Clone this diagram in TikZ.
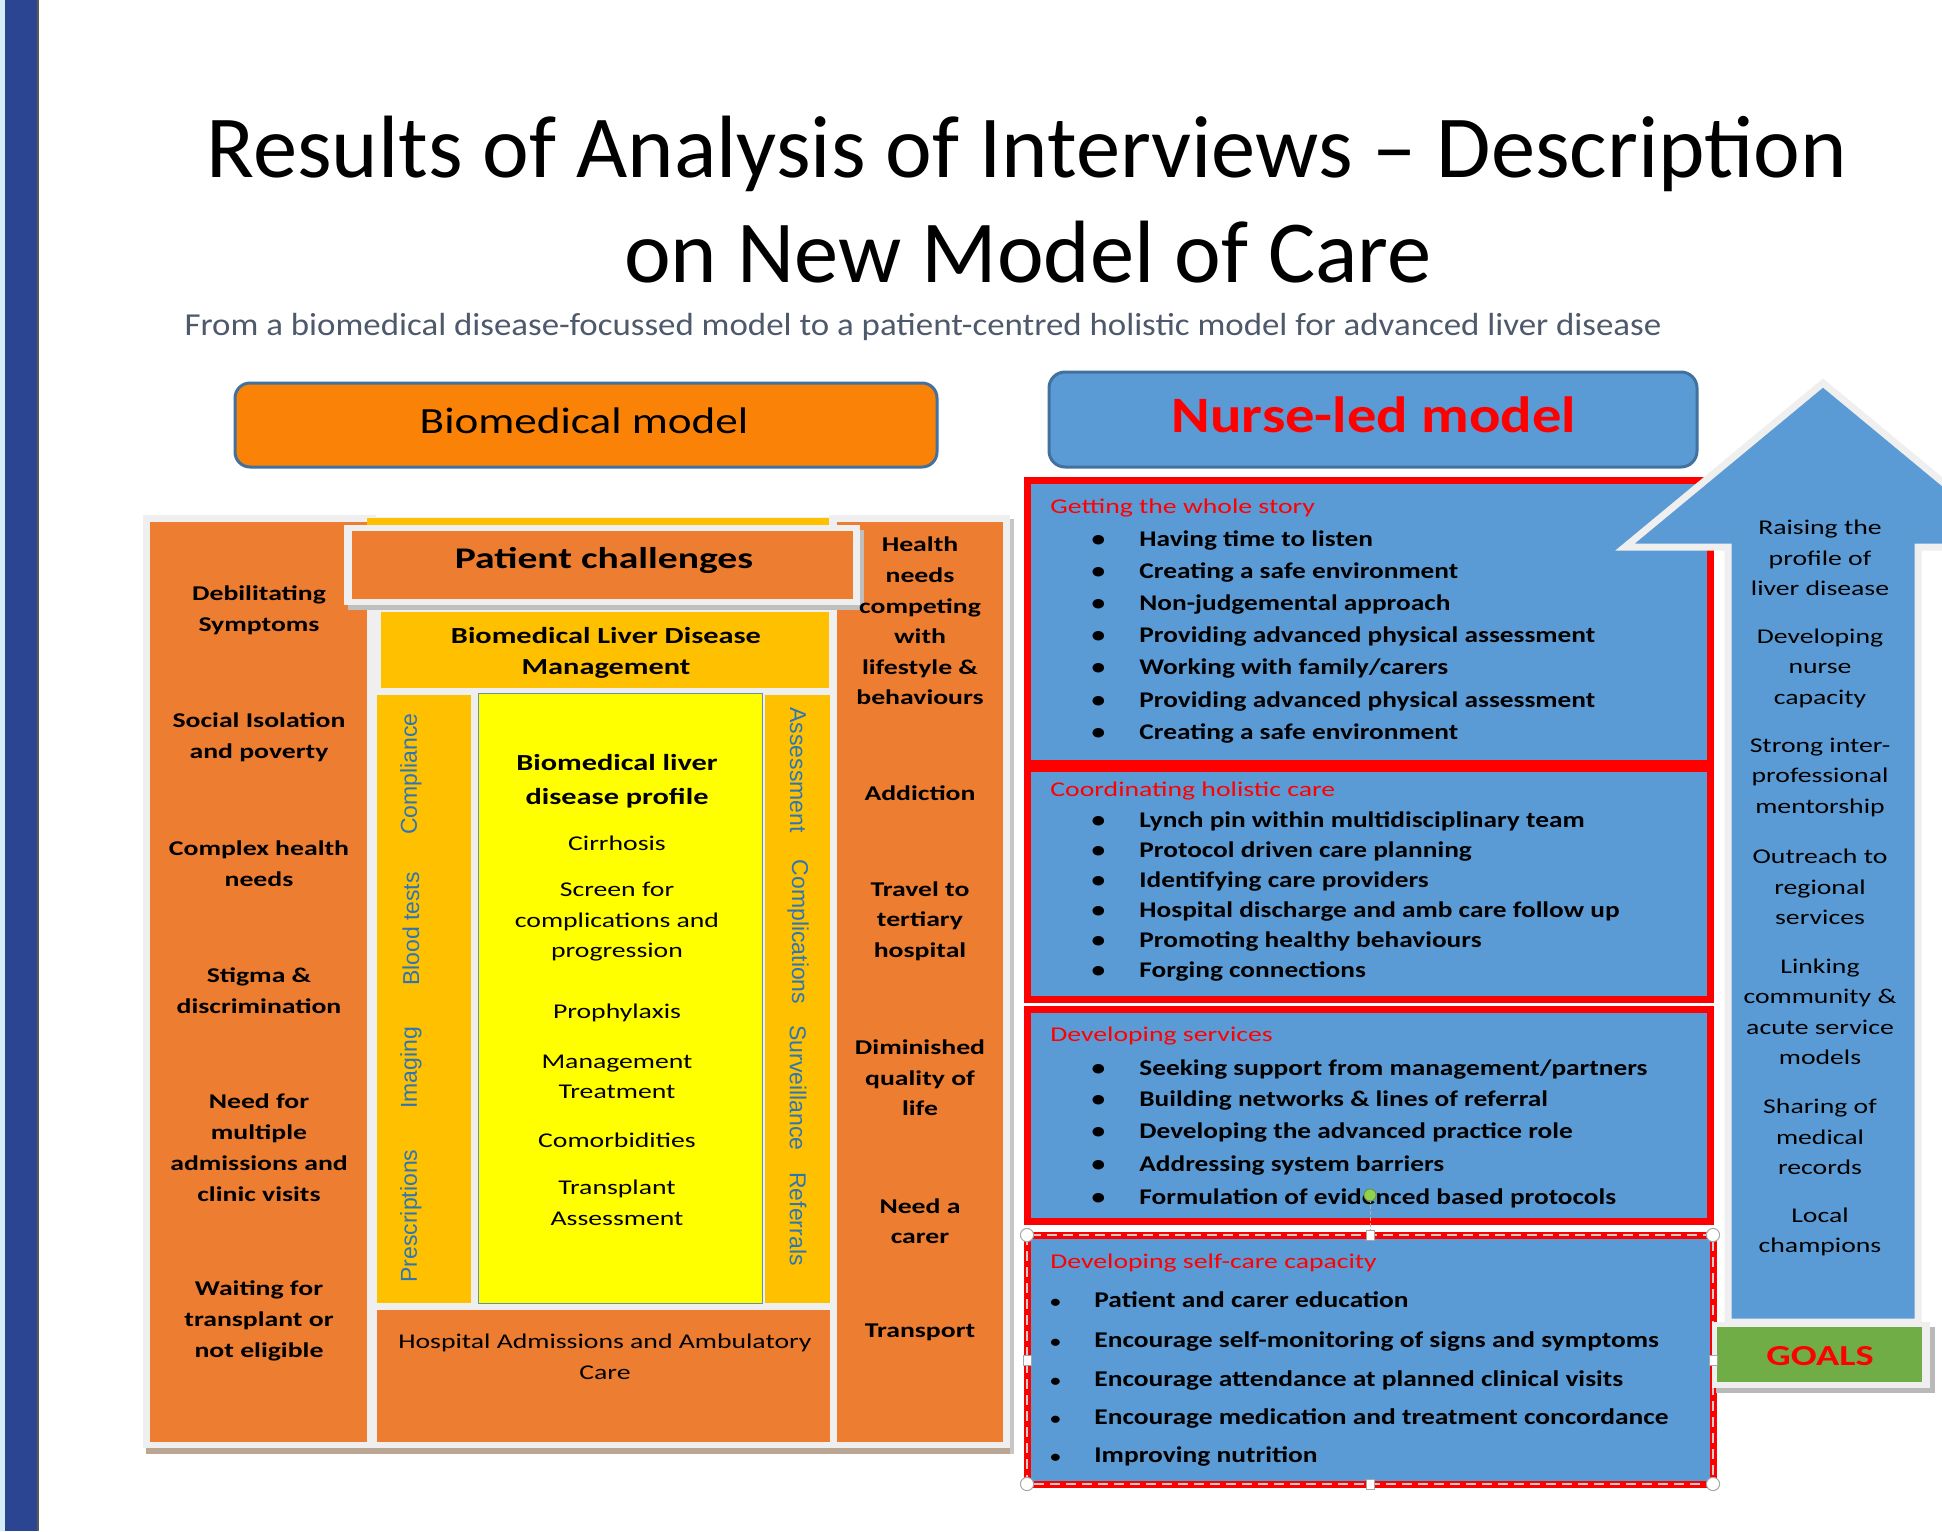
\documentclass[tikz,border=0pt]{standalone}
\usepackage{fontspec}
\setmainfont{Carlito}
\newfontfamily\cA{Carlito}
\newfontfamily\cS[FakeStretch=1.09]{Carlito}
\newfontfamily\cE[FakeStretch=1.15]{Carlito}
\newfontfamily\cC[FakeStretch=1.22]{Carlito}
\newfontfamily\cD[FakeStretch=1.32]{Carlito}
\newfontfamily\arl{Liberation Sans}
\usetikzlibrary{calc,decorations.pathmorphing}
\definecolor{barblue}{HTML}{2B4592}
\definecolor{barlight}{HTML}{D4EEF9}
\definecolor{obright}{HTML}{FA8207}
\definecolor{ocol}{HTML}{ED7D31}
\definecolor{gold}{HTML}{FFC000}
\definecolor{yel}{HTML}{FFFF00}
\definecolor{nblue}{HTML}{5B9BD5}
\definecolor{edgeblue}{HTML}{41719C}
\definecolor{vtext}{HTML}{2E75B6}
\definecolor{framegrey}{HTML}{EFEFEF}
\definecolor{goalg}{HTML}{70AD47}
\definecolor{subgrey}{HTML}{4E5A6B}
\definecolor{pure}{HTML}{FF0000}
\definecolor{lgreen}{HTML}{92D050}
\newlength\ambx
\newlength\ambw
\newcommand\bulfont{\cC\bfseries\fontsize{11.2}{13}\selectfont}
\tikzset{
  colL/.style={font=\cD\bfseries\fontsize{10.5}{15.5}\selectfont, align=center, inner sep=0},
  colR/.style={font=\cD\bfseries\fontsize{10.5}{15.3}\selectfont, align=center, inner sep=0},
  ytxt/.style={font=\cD\fontsize{10.5}{15.25}\selectfont, align=center, inner sep=0},
  ybold/.style={font=\cD\bfseries\fontsize{11.5}{17}\selectfont, align=center, inner sep=0},
  vt/.style={font=\arl\fontsize{11.5}{13}\selectfont, text=vtext, inner sep=0},
  arrt/.style={font=\cD\fontsize{10.5}{15.25}\selectfont, align=center, inner sep=0},
  nhead/.style={font=\cD\fontsize{10.5}{12}\selectfont, text=pure, anchor=west, inner sep=0, text height=7.35pt, text depth=2.1pt},
  bulsty/.style={font=\bulfont, anchor=west, inner sep=0, text height=7.8pt, text depth=2.25pt},
  bulsty4/.style={font=\cC\bfseries\fontsize{11.25}{13}\selectfont, anchor=west, inner sep=0, text height=7.9pt, text depth=2.25pt},
  panel/.style={fill=nblue, draw=pure, line width=3.5pt},
  handle/.style={fill=white, draw=gray!70, line width=0.5pt},
}
\newcommand\bitem[3]{\node[bulsty, name=#1] at (1057,#2) {\makebox[41pt][c]{\textbullet}#3};}
\newcommand\bitemp[3]{\node[bulsty4, name=#1] at (1016,#2) {\makebox[39pt][c]{\scalebox{0.75}{\textbullet}}#3};}
\begin{document}
\begin{tikzpicture}[x=0.5pt,y=-0.5pt]
\useasboundingbox (0,0) rectangle (1942,1531);
\fill[white] (0,0) rectangle (1942,1531);
% left bar
\fill[barlight] (0,0) rectangle (5,1531);
\fill[barblue] (5,0) rectangle (37,1531);
\fill[gray!70!black] (37,0) rectangle (39,1531);

% title
\node[name=title1, font=\cA\fontsize{44.25}{54}\selectfont, anchor=base, inner sep=0] at (1027,177) {Results of Analysis of Interviews – Description};
\node[name=title2, font=\cA\fontsize{44.25}{54}\selectfont, anchor=base, inner sep=0] at (1028,282) {on New Model of Care};
\node[name=subtitle, font=\cS\fontsize{16}{19}\selectfont, text=subgrey, anchor=base, inner sep=0] at (923,335) {From a biomedical disease-focussed model to a patient-centred holistic model for advanced liver disease};

% model header boxes
\draw[fill=obright, draw=edgeblue, line width=1.5pt, rounded corners=7.5pt] (235,383) rectangle (937,467);
\node[name=biomodel, font=\cC\fontsize{18.5}{22}\selectfont, anchor=base, inner sep=0] at (584,433) {Biomedical model};
\draw[fill=nblue, draw=edgeblue, line width=1.5pt, rounded corners=8pt] (1049,372) rectangle (1697,467);
\node[name=nursemodel, font=\cE\bfseries\fontsize{25.5}{29}\selectfont, text=pure, anchor=base, inner sep=0] at (1374,432) {Nurse-led model};

% biomedical table
\fill[framegrey] (143,515) rectangle (1010,1448);
\fill[white] (376,508) rectangle (829,517);
\fill[brown!45!gray!70] (146,1448) rectangle (1013,1454);
\fill[gray!45] (1010,519) rectangle (1014,1454);
\fill[ocol] (150,522) rectangle (367,1442);
\fill[ocol] (837,522) rectangle (1003,1442);
\fill[gold] (367,518) rectangle (829,531);
\fill[gray!50] (348,530) rectangle (864,610);
\fill[framegrey] (344,525) rectangle (860,605);
\fill[ocol] (352,531) rectangle (853,599);
\fill[gold] (381,612) rectangle (829,688);
\fill[gold] (377,695) rectangle (471,1303);
\fill[gold] (765,695) rectangle (830,1303);
\draw[fill=yel, draw=edgeblue!80, line width=0.5pt] (478,693) rectangle (762,1303);
\fill[ocol] (377,1310) rectangle (830,1442);

% left column texts
\node[colL, name=l1] at (259,610) {Debilitating\\Symptoms};
\node[colL, name=l2] at (259,737) {Social Isolation\\and poverty};
\node[colL, name=l3] at (259,864) {Complex health\\needs};
\node[colL, name=l4] at (259,991) {Stigma \&\\discrimination};
\node[colL, name=l5] at (259,1148) {Need for\\multiple\\admissions and\\clinic visits};
\node[colL, name=l6] at (259,1321) {Waiting for\\transplant or\\not eligible};

% right column texts
\node[colR, name=r1] at (920,621) {Health\\needs\\competing\\with\\lifestyle \&\\behaviours};
\node[colR, name=r2] at (920,793) {Addiction};
\node[colR, name=r3] at (920,921) {Travel to\\tertiary\\hospital};
\node[colR, name=r4] at (920,1078) {Diminished\\quality of\\life};
\node[colR, name=r5] at (920,1221) {Need a\\carer};
\node[colR, name=r6] at (920,1332) {Transport};

% middle texts
\node[name=pchall, font=\cD\bfseries\fontsize{15}{17}\selectfont, anchor=base, inner sep=0] at (604,568) {Patient challenges};
\node[ybold, name=bldm, font=\cD\bfseries\fontsize{11.5}{15.5}\selectfont] at (606,653) {Biomedical Liver Disease\\Management};
\node[ybold, name=ytitle] at (617,781) {Biomedical liver\\disease profile};
\node[ytxt, name=y1] at (617,843) {Cirrhosis};
\node[ytxt, name=y2] at (617,922) {Screen for\\complications and\\progression};
\node[ytxt, name=y3] at (617,1013) {Prophylaxis};
\node[ytxt, name=y4] at (617,1077) {Management\\Treatment};
\node[ytxt, name=y5] at (617,1140) {Comorbidities};
\node[ytxt, name=y6] at (617,1203) {Transplant\\Assessment};
\node[ytxt, name=hosp] at (605,1357) {Hospital Admissions and Ambulatory\\Care};

% vertical texts
\node[vt, rotate=90, name=v1] at (411,774) {Compliance};
\node[vt, rotate=90, name=v2] at (411,929) {Blood tests};
\node[vt, rotate=90, name=v3] at (411,1068) {Imaging};
\node[vt, rotate=90, name=v4] at (411,1216) {Prescriptions};
\node[vt, rotate=-90, name=v5] at (798,770) {Assessment};
\node[vt, rotate=-90, name=v6] at (798,932) {Complications};
\node[vt, rotate=-90, name=v7] at (798,1088) {Surveillance};
\node[vt, rotate=-90, name=v8] at (798,1219) {Referrals};

% nurse panels
\draw[panel] (1027,480) rectangle (1710,763);
\draw[panel] (1027,768) rectangle (1710,999);
\draw[panel] (1027,1009) rectangle (1710,1221);
\draw[panel] (1027,1235) rectangle (1713,1484);
\draw[gray!40, line width=0.6pt, dash pattern=on 5pt off 3pt] (1027,1235) rectangle (1713,1484);

\node[nhead, name=h1] at (1050,508) {Getting the whole story};
\bitem{b1-1}{540.5}{Having time to listen}
\bitem{b1-2}{572.5}{Creating a safe environment}
\bitem{b1-3}{604.5}{Non-judgemental approach}
\bitem{b1-4}{637}{Providing advanced physical assessment}
\bitem{b1-5}{669}{Working with family/carers}
\bitem{b1-6}{701.5}{Providing advanced physical assessment}
\bitem{b1-7}{733.5}{Creating a safe environment}

\node[nhead, name=h2] at (1050,791) {Coordinating holistic care};
\bitem{b2-1}{821.5}{Lynch pin within multidisciplinary team}
\bitem{b2-2}{851.5}{Protocol driven care planning}
\bitem{b2-3}{882}{Identifying care providers}
\bitem{b2-4}{911.5}{Hospital discharge and amb care follow up}
\bitem{b2-5}{941.5}{Promoting healthy behaviours}
\bitem{b2-6}{971.5}{Forging connections}
\settowidth\ambx{\bulfont\makebox[41pt]{}Hospital discharge and }
\settowidth\ambw{\bulfont amb}
\draw[pure, line width=0.5pt, decorate, decoration={snake, amplitude=0.6pt, segment length=2.2pt}]
  ($(b2-4.base west)+(\ambx,-2.8pt)$) -- ++(\ambw,0);

\node[nhead, name=h3] at (1050,1036) {Developing services};
\bitem{b3-1}{1069.5}{Seeking support from management/partners}
\bitem{b3-2}{1100.5}{Building networks \& lines of referral}
\bitem{b3-3}{1132.5}{Developing the advanced practice role}
\bitem{b3-4}{1165.5}{Addressing system barriers}
\bitem{b3-5}{1198.5}{Formulation of evidenced based protocols}

\node[nhead, name=h4] at (1050,1263) {Developing self-care capacity};
\bitemp{b4-1}{1301.5}{Patient and carer education}
\bitemp{b4-2}{1341.5}{Encourage self-monitoring of signs and symptoms}
\bitemp{b4-3}{1380.5}{Encourage attendance at planned clinical visits}
\bitemp{b4-4}{1418.5}{Encourage medication and treatment concordance}
\bitemp{b4-5}{1456.5}{Improving nutrition}

% arrow
\begin{scope}
\clip (0,0) rectangle (1942,1531);
\draw[fill=nblue, draw=framegrey, line width=3.5pt, line join=miter]
  (1823,383) -- (2021,547) -- (1918,547) -- (1918,1322) -- (1728,1322) -- (1728,547) -- (1625,547) -- cycle;
\end{scope}
\node[arrt, name=a1] at (1820,558) {Raising the\\profile of\\liver disease};
\node[arrt, name=a2] at (1820,668) {Developing\\nurse\\capacity};
\node[arrt, name=a3] at (1820,777) {Strong inter-\\professional\\mentorship};
\node[arrt, name=a4] at (1820,887) {Outreach to\\regional\\services};
\node[arrt, name=a5] at (1820,1012) {Linking\\community \&\\acute service\\models};
\node[arrt, name=a6] at (1820,1137) {Sharing of\\medical\\records};
\node[arrt, name=a7] at (1820,1232) {Local\\champions};

% goals
\fill[gray!55] (1716,1327) rectangle (1935,1393);
\fill[framegrey] (1712,1322) rectangle (1930,1388);
\fill[goalg] (1717,1327) rectangle (1922,1382);
\node[name=goals, font=\cD\bfseries\fontsize{14.5}{17}\selectfont, text=pure, anchor=base, inner sep=0] at (1820,1365) {GOALS};

% selection handles
\draw[gray!60, line width=0.4pt, dash pattern=on 2pt off 1pt] (1370,1199) -- (1370,1231);
\filldraw[fill=lgreen, draw=lgreen!70!black, line width=0.4pt] (1370,1195) circle[radius=3pt];
\foreach \hx/\hy [count=\k] in {1027/1235, 1713/1235, 1027/1484, 1713/1484}
  \filldraw[handle] (\hx,\hy) circle[radius=3.3pt];
\foreach \hx/\hy [count=\k] in {1370/1235, 1370/1484, 1027/1360, 1713/1360}
  \filldraw[handle] (\hx-4,\hy-5) rectangle (\hx+4,\hy+5);
\end{tikzpicture}
\end{document}
